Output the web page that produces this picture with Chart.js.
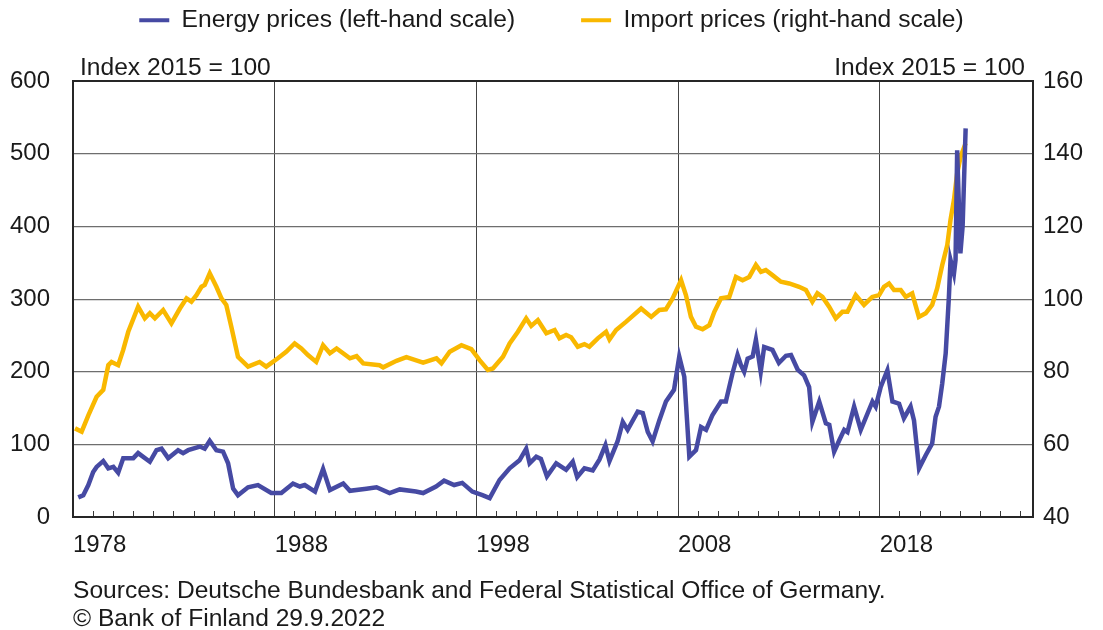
<!DOCTYPE html>
<html>
<head>
<meta charset="utf-8">
<script src="https://cdn.jsdelivr.net/npm/chart.js@4.4.1/dist/chart.umd.min.js"></script>
<style>
  body { margin: 0; background: #fff; }
  #wrap { position: relative; width: 1103px; height: 630px; font-family: 'Liberation Sans', Arial, sans-serif; color: #1a1a1a; }
  #chart { position: absolute; left: 0; top: 0; }
  .note { position: absolute; font-size: 24.6px; line-height: 28px; white-space: nowrap; }
</style>
</head>
<body>
<div id="wrap">
  <canvas id="chart" width="1103" height="630"></canvas>
  <div class="note" style="left:80px; top:53px">Index 2015 = 100</div>
  <div class="note" style="right:78px; top:53px">Index 2015 = 100</div>
  <div class="note" style="left:73px; top:576px">Sources: Deutsche Bundesbank and Federal Statistical Office of Germany.<br>© Bank of Finland 29.9.2022</div>
</div>
<script>
// Lukuarvot luettu kuvasta (x = vuosi desimaalina)
const ENERGY_YEARS = [
  1978.26, 1978.51, 1978.76, 1979.0, 1979.17, 1979.5, 1979.75, 1980.0, 1980.24, 1980.49, 1980.99,
  1981.23, 1981.81, 1982.14, 1982.39, 1982.72, 1983.21, 1983.46, 1983.71, 1984.29, 1984.53, 1984.78,
  1985.11, 1985.44, 1985.69, 1985.94, 1986.18, 1986.68, 1987.17, 1987.83, 1988.33, 1988.91, 1989.25,
  1989.49, 1990.0, 1990.4, 1990.74, 1991.4, 1991.73, 1992.55, 1993.05, 1993.7, 1994.2, 1995.0,
  1995.36, 1996.0, 1996.4, 1996.9, 1997.3, 1997.8, 1998.3, 1998.66, 1999.15, 1999.65, 2000.14,
  2000.47, 2000.64, 2000.97, 2001.2, 2001.5, 2001.96, 2002.45, 2002.78, 2003.0, 2003.36, 2003.77,
  2004.1, 2004.4, 2004.6, 2005.0, 2005.26, 2005.5, 2006.0, 2006.25, 2006.5, 2006.74, 2007.07,
  2007.4, 2007.8, 2008.06, 2008.31, 2008.56, 2008.89, 2009.14, 2009.39, 2009.7, 2010.13, 2010.37,
  2010.7, 2010.95, 2011.12, 2011.28, 2011.45, 2011.7, 2011.86, 2012.1, 2012.27, 2012.68, 2013.0,
  2013.35, 2013.6, 2013.93, 2014.25, 2014.5, 2014.66, 2015.0, 2015.33, 2015.5, 2015.74, 2016.0,
  2016.24, 2016.4, 2016.73, 2017.06, 2017.64, 2017.8, 2018.05, 2018.38, 2018.63, 2018.96, 2019.2,
  2019.53, 2019.7, 2019.95, 2020.28, 2020.6, 2020.77, 2020.94, 2021.1, 2021.27, 2021.43, 2021.51,
  2021.68, 2021.76, 2021.84, 2022.0, 2022.11, 2022.26
];
const ENERGY_VALUES = [
  27, 30, 44, 62, 69, 77, 67, 69, 61, 81, 81,
  88, 76, 92, 94, 81, 92, 88, 92, 97, 94, 105,
  92, 90, 74, 39, 30, 41, 44, 33, 33, 46, 42,
  44, 35, 66, 37, 46, 36, 39, 41, 33, 38, 35,
  33, 42, 50, 44, 47, 35, 30, 26, 51, 67, 78,
  94, 74, 83, 80, 56, 74, 65, 76, 55, 67, 64,
  79, 99, 77, 104, 131, 120, 145, 143, 117, 104, 133,
  159, 175, 221, 193, 83, 92, 124, 120, 140, 159, 159,
  198, 223, 209, 200, 218, 221, 244, 200, 234, 230, 212,
  222, 223, 203, 195, 179, 131, 159, 129, 127, 90, 106,
  120, 117, 152, 120, 159, 152, 179, 202, 159, 156, 136,
  152, 133, 67, 85, 101, 138, 152, 184, 225, 303, 354,
  335, 354, 505, 363, 400, 535
];

const IMPORT_YEARS = [
  1978.1, 1978.43, 1978.76, 1979.17, 1979.5, 1979.75, 1979.91, 1980.24, 1980.49, 1980.74, 1981.23,
  1981.56, 1981.81, 1982.06, 1982.47, 1982.88, 1983.3, 1983.63, 1983.87, 1984.12, 1984.37, 1984.53,
  1984.78, 1985.11, 1985.36, 1985.6, 1985.85, 1986.18, 1986.68, 1987.25, 1987.58, 1988.16, 1988.57,
  1988.99, 1989.32, 1989.65, 1990.06, 1990.4, 1990.74, 1991.07, 1991.73, 1992.06, 1992.39, 1993.2,
  1993.38, 1994.04, 1994.53, 1995.36, 1996.02, 1996.27, 1996.68, 1997.26, 1997.75, 1998.16, 1998.57,
  1998.82, 1999.32, 1999.65, 2000.06, 2000.47, 2000.72, 2001.05, 2001.47, 2001.88, 2002.12, 2002.45,
  2002.7, 2003.03, 2003.36, 2003.6, 2004.02, 2004.43, 2004.6, 2004.93, 2005.43, 2006.17, 2006.67,
  2007.07, 2007.4, 2007.73, 2008.15, 2008.39, 2008.64, 2008.89, 2009.22, 2009.55, 2009.8, 2010.13,
  2010.54, 2010.87, 2011.2, 2011.53, 2011.86, 2012.11, 2012.35, 2012.68, 2013.1, 2013.51, 2014.0,
  2014.34, 2014.66, 2014.91, 2015.16, 2015.49, 2015.82, 2016.15, 2016.4, 2016.81, 2017.22, 2017.63,
  2017.97, 2018.21, 2018.46, 2018.71, 2019.04, 2019.29, 2019.61, 2019.94, 2020.28, 2020.6, 2020.85,
  2021.1, 2021.35, 2021.51, 2021.68, 2021.84, 2022.01, 2022.26
];
const IMPORT_VALUES = [
  64.4, 63.5, 68, 73.1, 75, 81.8, 82.7, 81.8, 86, 91, 97.9,
  94.7, 96.1, 94.7, 97, 93.3, 97.4, 100.2, 99.3, 101.1, 103.4, 103.9,
  107.1, 103.4, 100.2, 98.4, 92.4, 84.1, 81.4, 82.7, 81.4, 83.7, 85.5,
  87.8, 86.4, 84.6, 82.7, 87.3, 85.1, 86.4, 83.7, 84.3, 82.3, 81.8,
  81.2, 83.0, 84.0, 82.5, 83.7, 82.3, 85.5, 87.3, 86.2, 83.2, 80.5,
  80.9, 84.1, 87.8, 91.0, 94.7, 92.6, 94.2, 90.6, 91.5, 89.2, 90.1,
  89.5, 86.9, 87.6, 86.9, 89.2, 91.0, 88.9, 91.5, 93.8, 97.4, 95.1,
  97.0, 97.2, 100.2, 105.2, 101.1, 95.1, 92.4, 91.7, 92.8, 96.5, 100.2,
  100.6, 106.1, 105.2, 106.1, 109.4, 107.5, 108.0, 106.6, 104.8, 104.3, 103.4,
  102.5, 99.3, 101.6, 100.6, 97.9, 94.7, 96.5, 96.5, 101.1, 98.4, 100.6,
  101.1, 103.4, 104.3, 102.5, 102.5, 100.6, 101.6, 95.1, 96.1, 98.4, 103.0,
  109.4, 114.9, 121.8, 127.3, 134.6, 139.2, 142.9
];

const LABELED_YEARS = [1978, 1988, 1998, 2008, 2018];
const X_MIN = 1978;
const X_MAX = 2025.6;

const BLUE = '#464aa3';
const YELLOW = '#f9b800';
const GRID = '#6e6e6e';
const FRAME = '#262626';
const TEXT = '#1a1a1a';
const FONT = { family: "'Liberation Sans', Arial, sans-serif", size: 24 };
const LEGEND_FONT = { family: "'Liberation Sans', Arial, sans-serif", size: 24.6 };

function toPoints(xs, ys) {
  return xs.map((x, i) => ({ x, y: ys[i] }));
}

new Chart(document.getElementById('chart'), {
  type: 'line',
  data: {
    datasets: [
      {
        label: 'Energy prices (left-hand scale)',
        data: toPoints(ENERGY_YEARS, ENERGY_VALUES),
        borderColor: BLUE,
        backgroundColor: BLUE,
        borderWidth: 4.5,
        pointRadius: 0,
        yAxisID: 'y',
      },
      {
        label: 'Import prices (right-hand scale)',
        data: toPoints(IMPORT_YEARS, IMPORT_VALUES),
        borderColor: YELLOW,
        backgroundColor: YELLOW,
        borderWidth: 4.5,
        pointRadius: 0,
        yAxisID: 'y2',
      },
    ],
  },
  options: {
    responsive: false,
    animation: false,
    // legendan rivivali = sama padding, siksi negatiivinen ylamarginaali
    layout: { padding: { top: -58, left: 0, right: 0, bottom: 0 } },
    plugins: {
      tooltip: { enabled: false },
      legend: {
        position: 'top',
        labels: {
          font: LEGEND_FONT,
          color: TEXT,
          boxWidth: 30,
          boxHeight: 4,
          padding: 66,
          generateLabels(chart) {
            const items = Chart.defaults.plugins.legend.labels.generateLabels(chart);
            items.forEach((i) => { i.lineWidth = 0; i.fillStyle = i.strokeStyle; });
            return items;
          },
        },
      },
    },
    scales: {
      x: {
        type: 'linear',
        position: 'bottom',
        min: X_MIN,
        max: X_MAX,
        afterBuildTicks(scale) {
          const ticks = [];
          for (let v = X_MIN; v <= Math.floor(X_MAX); v++) ticks.push({ value: v });
          scale.ticks = ticks;
        },
        afterFit(scale) { scale.height = 113; },
        ticks: {
          autoSkip: false,
          maxRotation: 0,
          align: 'start',
          padding: 20,
          font: FONT,
          color: TEXT,
          callback: (v) => (LABELED_YEARS.includes(v) ? String(v) : ''),
        },
        grid: {
          color: (ctx) => (ctx.tick && LABELED_YEARS.includes(ctx.tick.value) && ctx.tick.value !== X_MIN ? '#444' : 'rgba(0,0,0,0)'),
          lineWidth: 1,
          tickLength: -6,
          tickColor: '#3a3a3a',
          tickWidth: 1,
        },
        border: { color: FRAME, width: 2 },
      },
      top: {
        type: 'linear',
        position: 'top',
        display: true,
        ticks: { display: false },
        grid: { display: false },
        border: { display: false },
        afterFit(scale) { scale.height = 38.6; },
      },
      y: {
        position: 'left',
        min: 0,
        max: 600,
        afterFit(scale) { scale.width = 73; },
        ticks: { stepSize: 100, padding: 23, font: FONT, color: TEXT },
        grid: {
          color: (ctx) => (ctx.tick && ctx.tick.value === 600 ? FRAME : GRID),
          lineWidth: (ctx) => (ctx.tick && ctx.tick.value === 600 ? 2 : 1.2),
          drawTicks: false,
        },
        border: { color: FRAME, width: 2 },
      },
      y2: {
        position: 'right',
        min: 40,
        max: 160,
        afterFit(scale) { scale.width = 70; },
        ticks: { stepSize: 20, padding: 10, font: FONT, color: TEXT },
        grid: { drawOnChartArea: false, drawTicks: false },
        border: { color: FRAME, width: 2 },
      },
    },
  },
});
</script>
</body>
</html>
